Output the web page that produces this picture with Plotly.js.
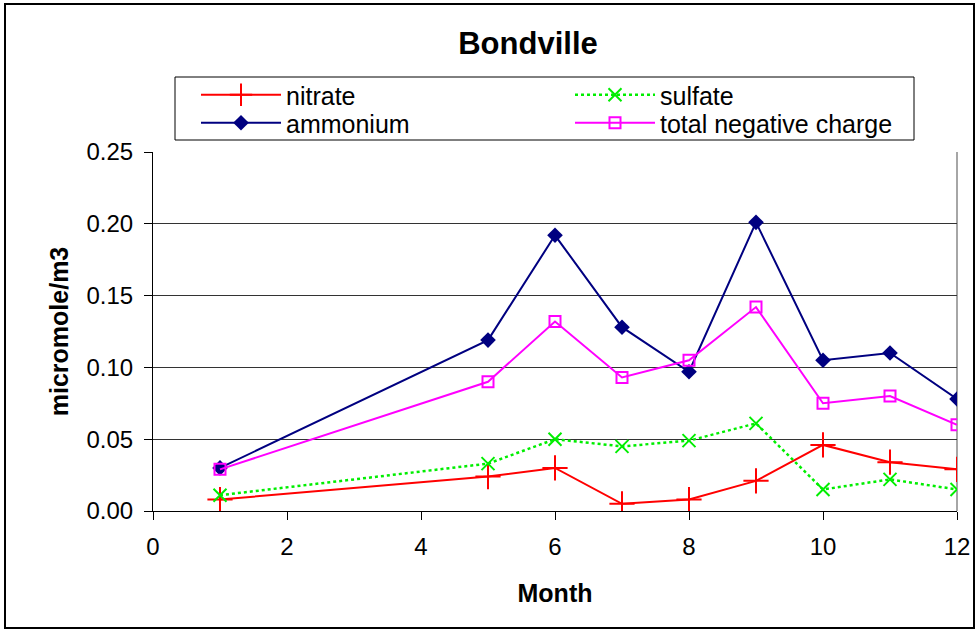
<!DOCTYPE html>
<html>
<head>
<meta charset="utf-8">
<script src="https://cdn.plot.ly/plotly-3.0.1.min.js"></script>
<style>
html,body{margin:0;padding:0;background:#fff;}
#chart{width:976px;height:630px;}
</style>
</head>
<body>
<div id="chart"></div>
<script>
var months = [1, 5, 6, 7, 8, 9, 10, 11, 12];
var nitrate = [0.008, 0.024, 0.030, 0.005, 0.008, 0.021, 0.046, 0.034, 0.029];
var sulfate = [0.011, 0.033, 0.050, 0.045, 0.049, 0.061, 0.015, 0.022, 0.015];
var ammonium = [0.030, 0.119, 0.192, 0.128, 0.097, 0.201, 0.105, 0.110, 0.078];
var totalNegative = [0.029, 0.090, 0.132, 0.093, 0.105, 0.142, 0.075, 0.080, 0.060];
var seriesNames = ['nitrate', 'sulfate', 'ammonium', 'total negative charge'];

var traces = [
  {x: months, y: nitrate, name: seriesNames[0], mode: 'lines+markers', legend: 'legend',
   line: {color: '#ff0000', width: 2},
   marker: {symbol: 'cross-thin-open', size: 18, color: '#ff0000', line: {color: '#ff0000', width: 2}}},
  {x: months, y: sulfate, name: seriesNames[1], mode: 'lines+markers', legend: 'legend',
   line: {color: '#00ee00', width: 2.5, dash: 'dot'},
   marker: {symbol: 'x-thin-open', size: 13, color: '#00ee00', line: {color: '#00ee00', width: 2}}},
  {x: months, y: ammonium, name: seriesNames[2], mode: 'lines+markers', legend: 'legend2',
   line: {color: '#000080', width: 2},
   marker: {symbol: 'diamond', size: 12, color: '#000080'}},
  {x: months, y: totalNegative, name: seriesNames[3], mode: 'lines+markers', legend: 'legend2',
   line: {color: '#ff00ff', width: 2},
   marker: {symbol: 'square-open', size: 11, color: '#ff00ff', line: {color: '#ff00ff', width: 2}}}
];

var L = 153, R = 19, T = 152, B = 119;
var PW = 976 - L - R, PH = 630 - T - B;
function px(xp){ return (xp - L) / PW; }
function py(yp){ return (630 - B - yp) / PH; }

var legendBase = {orientation: 'h', xanchor: 'left', yanchor: 'middle',
  bgcolor: 'rgba(0,0,0,0)', borderwidth: 0,
  font: {size: 25, family: 'Liberation Sans, Arial, sans-serif', color: '#000'},
  itemwidth: 80, entrywidth: 279, entrywidthmode: 'pixels',
  traceorder: 'normal', tracegroupgap: 0};

var layout = {
  width: 976, height: 630,
  margin: {l: L, r: R, t: T, b: B, pad: 0},
  paper_bgcolor: '#ffffff', plot_bgcolor: '#ffffff',
  font: {family: 'Liberation Sans, Arial, sans-serif', color: '#000', size: 24},
  title: {text: '<b>Bondville</b>', font: {size: 31, color: '#000'},
          xref: 'container', x: 528/976, xanchor: 'center',
          yref: 'container', y: 1 - 43/630, yanchor: 'middle'},
  xaxis: {range: [0, 12], dtick: 2, tick0: 0, showgrid: false, zeroline: false,
          showline: true, linecolor: '#000', linewidth: 1,
          ticks: 'outside', ticklen: 8, tickcolor: '#000', tickwidth: 1,
          tickfont: {size: 24}, ticklabelstandoff: 6,
          title: {text: '<b>Month</b>', font: {size: 25}, standoff: 25}},
  yaxis: {range: [0, 0.25], dtick: 0.05, tick0: 0, tickformat: '.2f',
          showgrid: true, gridcolor: '#333', gridwidth: 1, zeroline: false,
          showline: true, linecolor: '#000', linewidth: 1,
          ticks: 'outside', ticklen: 8, tickcolor: '#000', tickwidth: 1,
          tickfont: {size: 24}, ticklabelstandoff: 6,
          title: {text: '<b>micromole/m3</b>', font: {size: 25}, standoff: 10}},
  showlegend: true,
  legend: Object.assign({}, legendBase, {x: px(196), y: py(95)}),
  legend2: Object.assign({}, legendBase, {x: px(196), y: py(123)}),
  shapes: [
    {type: 'rect', xref: 'paper', yref: 'paper', x0: px(5), x1: px(974), y0: py(628), y1: py(4),
     line: {color: '#000', width: 2}, fillcolor: 'rgba(0,0,0,0)', layer: 'below'},
    {type: 'rect', xref: 'paper', yref: 'paper', x0: px(175), x1: px(914), y0: py(140), y1: py(77),
     line: {color: '#000', width: 1}, fillcolor: 'rgba(0,0,0,0)', layer: 'below'},
    {type: 'line', xref: 'paper', yref: 'paper', x0: 1, x1: 1, y0: 0, y1: 1,
     line: {color: '#888', width: 1.5}, layer: 'below'}
  ]
};

Plotly.newPlot('chart', traces, layout, {staticPlot: true, displayModeBar: false});
</script>
</body>
</html>
